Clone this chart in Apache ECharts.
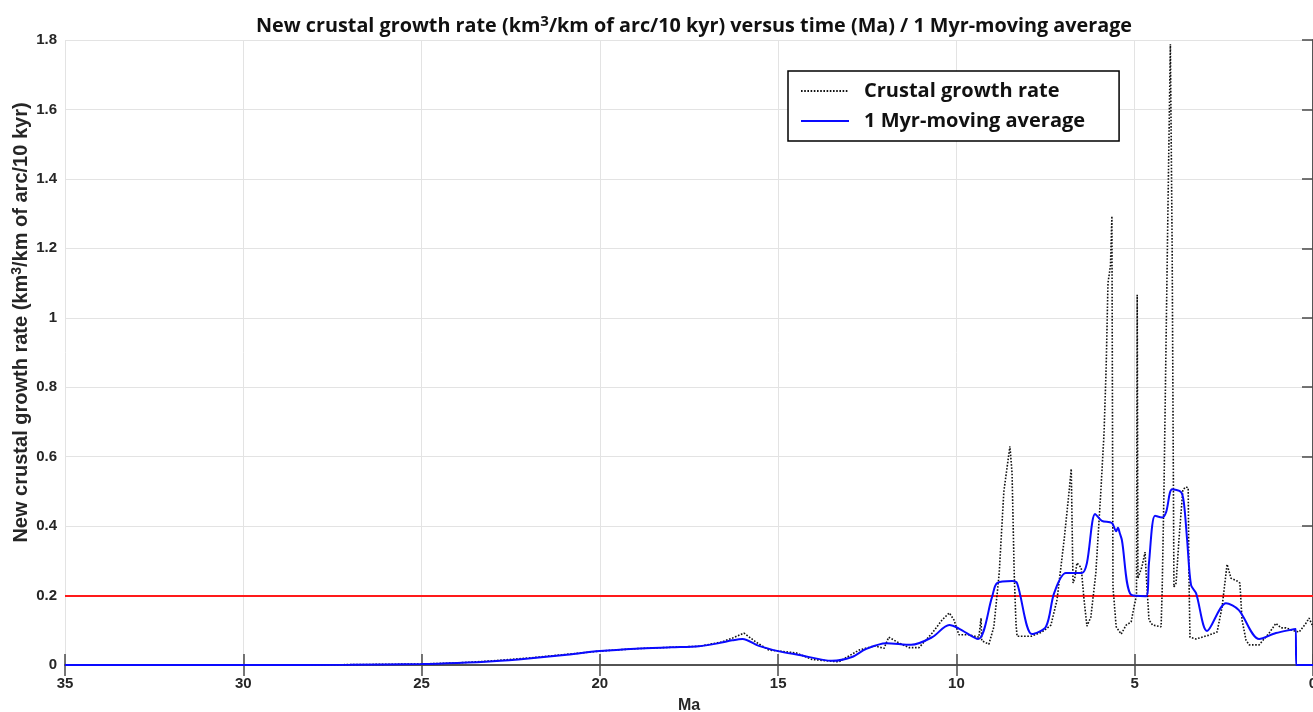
<!DOCTYPE html>
<html>
<head>
<meta charset="utf-8">
<script src="https://cdn.jsdelivr.net/npm/echarts@6/dist/echarts.min.js"></script>
<style>
  html, body { margin: 0; padding: 0; background: #fff; overflow: hidden; }
  #chart { width: 1313px; height: 712px; }
</style>
</head>
<body>
<div id="chart"></div>
<script>
// Crustal growth rate (km3/km of arc/10 kyr) against age (Ma)
const rateAge = [35, 30, 27, 25, 24, 23, 22, 21, 20, 19, 18, 17.2, 16.6, 16.29, 15.96, 15.62, 15.26, 14.5, 14.05, 13.3,
  12.73, 12.3, 12.03, 11.9, 11.6, 11.33, 11.05, 10.68, 10.4, 10.2, 10.07, 9.93, 9.65, 9.37, 9.31, 9.29, 9.09, 8.95,
  8.8, 8.67, 8.5, 8.44, 8.38, 8.33, 8.3, 7.9, 7.6, 7.35, 7.18, 6.98, 6.84, 6.78, 6.73, 6.68, 6.62, 6.5, 6.42, 6.34,
  6.23, 6.09, 5.95, 5.86, 5.8, 5.75, 5.68, 5.64, 5.62, 5.61, 5.52, 5.38, 5.24, 5.1, 5.02, 4.95, 4.93, 4.91, 4.88,
  4.8, 4.71, 4.68, 4.6, 4.5, 4.26, 4.23, 4.18, 4.07, 4.0, 3.95, 3.9, 3.84, 3.76, 3.65, 3.56, 3.5, 3.48, 3.45, 3.28,
  2.92, 2.69, 2.55, 2.41, 2.3, 2.13, 2.05, 1.99, 1.88, 1.79, 1.51, 1.23, 1.04, 0.9, 0.76, 0.59, 0.39, 0.2, 0.11, 0];
const rateValue = [0, 0, 0.001, 0.003, 0.006, 0.012, 0.02, 0.03, 0.04, 0.047, 0.051, 0.054, 0.066, 0.077, 0.092, 0.066, 0.043, 0.035, 0.016, 0.009,
  0.043, 0.055, 0.048, 0.08, 0.063, 0.05, 0.05, 0.092, 0.13, 0.15, 0.13, 0.087, 0.087, 0.08, 0.135, 0.07, 0.06, 0.11,
  0.265, 0.5, 0.63, 0.553, 0.265, 0.12, 0.083, 0.083, 0.095, 0.115, 0.187, 0.36, 0.5, 0.565, 0.236, 0.25, 0.294, 0.28, 0.187, 0.112,
  0.138, 0.265, 0.5, 0.668, 0.86, 1.1, 1.15, 1.293, 0.6, 0.225, 0.11, 0.089, 0.115, 0.124, 0.167, 0.2, 1.066, 0.25, 0.245,
  0.282, 0.325, 0.265, 0.13, 0.115, 0.11, 0.216, 0.5, 1.3, 1.788, 1.2, 0.225, 0.236, 0.36, 0.505, 0.513, 0.51, 0.265, 0.08, 0.075,
  0.086, 0.095, 0.167, 0.29, 0.25, 0.242, 0.236, 0.13, 0.072, 0.058, 0.058, 0.092, 0.12, 0.107, 0.107, 0.1, 0.095, 0.12, 0.135, 0.11];

// 1 Myr moving average of the growth rate
const avgAge = [35, 30, 27, 25, 24, 23, 22, 21, 20, 19, 18, 17.22, 16.66, 16.29, 16.0, 15.54, 15.0, 14.41, 13.49, 12.93,
  12.54, 11.97, 11.27, 10.68, 10.2, 9.93, 9.39, 9.0, 8.86, 8.44, 8.3, 7.88, 7.49, 7.26, 6.93, 6.48, 6.34, 6.11, 5.92,
  5.64, 5.52, 5.47, 5.42, 5.36, 5.1, 4.68, 4.6, 4.43, 4.23, 4.12, 3.95, 3.7, 3.62, 3.53, 3.42, 3.28, 2.97, 2.44, 2.08,
  1.51, 1.04, 0.48, 0.475, 0];
const avgValue = [0, 0, 0.001, 0.003, 0.006, 0.011, 0.019, 0.029, 0.04, 0.047, 0.051, 0.054, 0.063, 0.071, 0.075, 0.055, 0.04, 0.029, 0.012, 0.023,
  0.046, 0.063, 0.058, 0.08, 0.115, 0.105, 0.075, 0.196, 0.236, 0.242, 0.236, 0.089, 0.11, 0.207, 0.265, 0.265, 0.294, 0.435, 0.415,
  0.409, 0.385, 0.395, 0.38, 0.36, 0.202, 0.198, 0.294, 0.43, 0.425, 0.44, 0.506, 0.498, 0.466, 0.36, 0.23, 0.207, 0.098, 0.178, 0.158,
  0.075, 0.092, 0.104, 0, 0];

// Threshold level drawn across the whole time span
const thresholdValue = 0.2;

// Axis ticks
const xTicks = [35, 30, 25, 20, 15, 10, 5, 0];
const yTicks = [0, 0.2, 0.4, 0.6, 0.8, 1, 1.2, 1.4, 1.6, 1.8];

const zip = (a, b) => a.map((v, i) => [v, b[i]]);

const labelFont = 'Liberation Sans, Arial, sans-serif';
const headFont = '"Open Sans", "Noto Sans", sans-serif';
const axisColor = '#4a4a4a';
const gridColor = '#e3e3e3';

const chart = echarts.init(document.getElementById('chart'), null, { renderer: 'canvas' });

const xBase = {
  type: 'value', min: xTicks[xTicks.length - 1], max: xTicks[0], interval: 5, inverse: true
};
const yBase = {
  type: 'value', min: yTicks[0], max: yTicks[yTicks.length - 1], interval: 0.2
};

chart.setOption({
  animation: false,
  backgroundColor: '#ffffff',
  title: {
    text: 'New crustal growth rate (km{sup|3}/km of arc/10 kyr) versus time (Ma) / 1 Myr-moving average',
    left: 251,
    top: 9,
    textStyle: {
      fontFamily: headFont, fontWeight: 'bold', fontSize: 19.8, color: '#111',
      rich: {
        sup: { fontFamily: headFont, fontWeight: 'bold', fontSize: 15, color: '#111', verticalAlign: 'top', padding: [0, 0, 10, 0] }
      }
    }
  },
  legend: {
    orient: 'vertical',
    left: 788,
    top: 71,
    padding: [10, 34, 10, 12],
    itemGap: 10,
    itemWidth: 48,
    itemHeight: 20,
    borderColor: '#000',
    borderWidth: 1.5,
    backgroundColor: '#fff',
    itemStyle: { opacity: 0 },
    textStyle: { fontFamily: headFont, fontWeight: 'bold', fontSize: 20, color: '#111', padding: [0, 0, 0, 10] },
    data: ['Crustal growth rate', '1 Myr-moving average']
  },
  grid: { left: 65, right: 0, top: 40, bottom: 47, containLabel: false, outerBoundsMode: 'none' },
  xAxis: [
    Object.assign({}, xBase, {
      position: 'bottom',
      name: 'Ma',
      nameLocation: 'middle',
      nameGap: 33,
      nameMoveOverlap: false,
      nameTextStyle: { fontFamily: labelFont, fontWeight: 'bold', fontSize: 16, color: '#262626' },
      axisLine: { show: true, lineStyle: { color: axisColor, width: 1.5 } },
      axisTick: { show: true, inside: true, length: 11, lineStyle: { color: axisColor, width: 1.5 } },
      axisLabel: { show: true, margin: 11, fontFamily: labelFont, fontWeight: 'bold', fontSize: 15, color: '#262626' },
      splitLine: { show: true, lineStyle: { color: gridColor, width: 1 } }
    }),
    Object.assign({}, xBase, {
      position: 'top',
      axisLine: { show: true, lineStyle: { color: axisColor, width: 1.5 } },
      axisTick: { show: true, inside: true, length: 11, lineStyle: { color: axisColor, width: 1.5 } },
      axisLabel: { show: false },
      splitLine: { show: false }
    })
  ],
  yAxis: [
    Object.assign({}, yBase, {
      position: 'left',
      name: 'New crustal growth rate (km{sup|3}/km of arc/10 kyr)',
      nameLocation: 'middle',
      nameGap: 33,
      nameMoveOverlap: false,
      nameTextStyle: {
        fontFamily: labelFont, fontWeight: 'bold', fontSize: 20, color: '#262626',
        padding: [0, 0, 0, 60],
        rich: {
          sup: { fontFamily: labelFont, fontWeight: 'bold', fontSize: 14, color: '#262626', verticalAlign: 'top', padding: [0, 0, 8, 0] }
        }
      },
      axisLine: { show: true, lineStyle: { color: axisColor, width: 1.5 } },
      axisTick: { show: true, inside: true, length: 11, lineStyle: { color: axisColor, width: 1.5 } },
      axisLabel: { show: true, margin: 8, fontFamily: labelFont, fontWeight: 'bold', fontSize: 15, color: '#262626' },
      splitLine: { show: true, lineStyle: { color: gridColor, width: 1 } }
    }),
    Object.assign({}, yBase, {
      position: 'right',
      axisLine: { show: true, lineStyle: { color: axisColor, width: 1.5 } },
      axisTick: { show: true, inside: true, length: 11, lineStyle: { color: axisColor, width: 1.5 } },
      axisLabel: { show: false },
      splitLine: { show: false }
    })
  ],
  series: [
    {
      name: 'Crustal growth rate',
      type: 'line',
      xAxisIndex: 0,
      yAxisIndex: 0,
      data: zip(rateAge, rateValue),
      symbol: 'none',
      showSymbol: false,
      smooth: false,
      lineStyle: { color: '#111', width: 1.6, type: [1.6, 1.6] },
      itemStyle: { color: '#111' },
      z: 3
    },
    {
      name: '1 Myr-moving average',
      type: 'line',
      xAxisIndex: 0,
      yAxisIndex: 0,
      data: zip(avgAge, avgValue),
      symbol: 'none',
      showSymbol: false,
      smooth: 0.3,
      lineStyle: { color: '#0a0aff', width: 2 },
      itemStyle: { color: '#0a0aff' },
      z: 4,
      markLine: {
        silent: true,
        symbol: 'none',
        label: { show: false },
        lineStyle: { color: '#ff1a1a', width: 2, type: 'solid' },
        data: [{ yAxis: thresholdValue }],
        z: 2
      }
    }
  ]
});
</script>
</body>
</html>
